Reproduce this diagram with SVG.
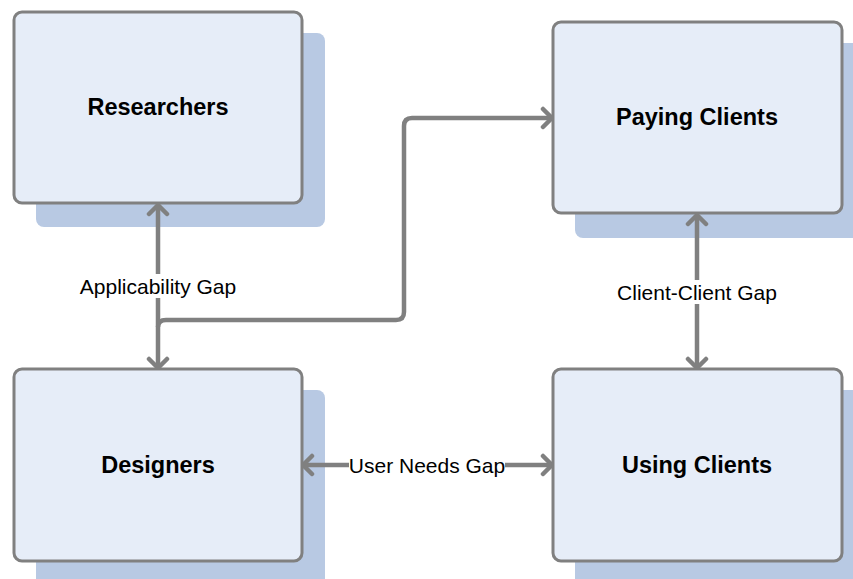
<svg xmlns="http://www.w3.org/2000/svg" width="853" height="579" viewBox="0 0 853 579">
<style>
.shadow{fill:#b8c9e3}
.box{fill:#e6edf8;stroke:#808080;stroke-width:3}
.title{font-family:"Liberation Sans",Arial,sans-serif;font-weight:bold;font-size:23.5px;fill:#000;text-anchor:middle;dominant-baseline:central}
.conn{fill:none;stroke:#808080;stroke-width:4.5}
.lbl{font-family:"Liberation Sans",Arial,sans-serif;font-size:21px;fill:#000;text-anchor:middle;dominant-baseline:central}
.lblbg{fill:#fff}
</style>
<defs>
<marker id="arr" viewBox="-12 -12 14 24" markerWidth="14" markerHeight="24" refX="0" refY="0" orient="auto-start-reverse" markerUnits="userSpaceOnUse">
<path d="M-9,-9 L0,0 L-9,9" fill="none" stroke="#808080" stroke-width="4.5" stroke-linecap="round" stroke-linejoin="round"/>
</marker>
</defs>
<g id="researchers">
<rect class="shadow" x="36" y="33" width="289" height="194" rx="8"/>
<rect class="box" x="14" y="12" width="288" height="191" rx="8"/>
<text class="title" x="158" y="107">Researchers</text>
</g>
<g id="paying-clients">
<rect class="shadow" x="575" y="43" width="290" height="195" rx="8"/>
<rect class="box" x="553" y="22" width="289" height="191" rx="8"/>
<text class="title" x="697" y="117">Paying Clients</text>
</g>
<g id="designers">
<rect class="shadow" x="36" y="390" width="289" height="200" rx="8"/>
<rect class="box" x="14" y="369" width="288" height="192" rx="8"/>
<text class="title" x="158" y="465">Designers</text>
</g>
<g id="using-clients">
<rect class="shadow" x="575" y="390" width="290" height="200" rx="8"/>
<rect class="box" x="553" y="369" width="289" height="192" rx="8"/>
<text class="title" x="697" y="465">Using Clients</text>
</g>
<g id="connectors">
<path class="conn" d="M158,205 L158,368" marker-start="url(#arr)" marker-end="url(#arr)"/>
<path class="conn" d="M158,327 Q158,320 166,320 L396,320 Q404,320 404,312 L404,126 Q404,118 412,118 L552,118" marker-end="url(#arr)"/>
<path class="conn" d="M697,215 L697,368" marker-start="url(#arr)" marker-end="url(#arr)"/>
<path class="conn" d="M303,465 L552,465" marker-start="url(#arr)" marker-end="url(#arr)"/>
<rect class="lblbg" x="78" y="274" width="160" height="24"/>
<text class="lbl" x="158" y="286">Applicability Gap</text>
<rect class="lblbg" x="616" y="280" width="162" height="24"/>
<text class="lbl" x="697" y="292">Client-Client Gap</text>
<rect class="lblbg" x="349" y="453" width="156" height="24"/>
<text class="lbl" x="427" y="465">User Needs Gap</text>
</g>
</svg>
